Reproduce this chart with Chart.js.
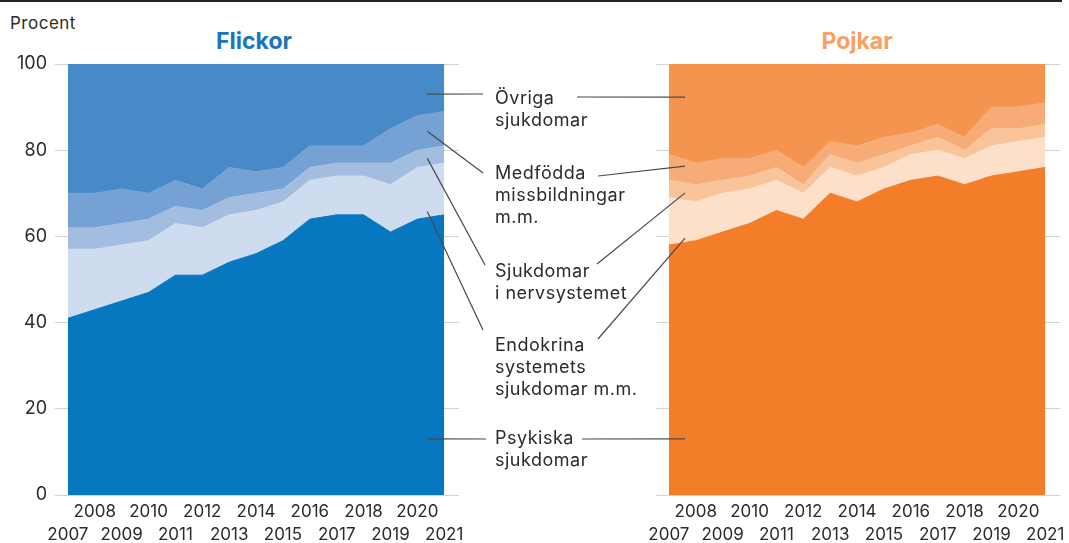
<!DOCTYPE html>
<html lang="sv">
<head>
<meta charset="utf-8">
<title>Flickor och pojkar – Procent</title>
<script src="https://cdn.jsdelivr.net/npm/chart.js@4.4.1/dist/chart.umd.min.js"></script>
<style>
  html, body { margin: 0; padding: 0; background: #fff; }
  #wrap { position: relative; width: 1069px; height: 543px; overflow: hidden; font-family: Inter, "Liberation Sans", sans-serif; color: #2b2b2b; }
  #wrap canvas { position: absolute; top: 0; }
  .topline { position: absolute; left: 0; top: 0; width: 1062px; height: 2px; background: #222; }
  .unit { position: absolute; left: 10px; top: 13px; font-size: 17px; letter-spacing: 0.5px; }
  .title { position: absolute; top: 27px; width: 200px; text-align: center; font-size: 23px; font-weight: 700; }
  .lbl { position: absolute; left: 495px; font-size: 18px; line-height: 22px; letter-spacing: 0.5px; white-space: nowrap; }
</style>
</head>
<body>
<div id="wrap">
  <div class="topline"></div>
  <div class="unit">Procent</div>
  <div class="title" style="left:154px; color:#1a76bc;">Flickor</div>
  <div class="title" style="left:757px; color:#f6a063;">Pojkar</div>

  <canvas id="girlsChart" width="470" height="543" style="left:0"></canvas>
  <canvas id="boysChart" width="469" height="543" style="left:600px"></canvas>
  <canvas id="leaders" width="1069" height="543" style="left:0"></canvas>

  <div class="lbl" style="top:87px">Övriga<br>sjukdomar</div>
  <div class="lbl" style="top:162px">Medfödda<br>missbildningar<br>m.m.</div>
  <div class="lbl" style="top:260px">Sjukdomar<br>i nervsystemet</div>
  <div class="lbl" style="top:334px">Endokrina<br>systemets<br>sjukdomar m.m.</div>
  <div class="lbl" style="top:427px">Psykiska<br>sjukdomar</div>
</div>

<script>
  // --- data (procent per år) ---
  const years = [2007, 2008, 2009, 2010, 2011, 2012, 2013, 2014, 2015, 2016, 2017, 2018, 2019, 2020, 2021];
  const yTicks = [0, 20, 40, 60, 80, 100];

  // Flickor
  const girlsPsykiska  = [41, 43, 45, 47, 51, 51, 54, 56, 59, 64, 65, 65, 61, 64, 65];
  const girlsEndokrina = [16, 14, 13, 12, 12, 11, 11, 10,  9,  9,  9,  9, 11, 12, 12];
  const girlsNerv      = [ 5,  5,  5,  5,  4,  4,  4,  4,  3,  3,  3,  3,  5,  4,  4];
  const girlsMedfodda  = [ 8,  8,  8,  6,  6,  5,  7,  5,  5,  5,  4,  4,  8,  8,  8];
  const girlsOvriga    = [30, 30, 29, 30, 27, 29, 24, 25, 24, 19, 19, 19, 15, 12, 11];

  // Pojkar
  const boysPsykiska  = [58, 59, 61, 63, 66, 64, 70, 68, 71, 73, 74, 72, 74, 75, 76];
  const boysEndokrina = [11,  9,  9,  8,  7,  6,  6,  6,  5,  6,  6,  6,  7,  7,  7];
  const boysNerv      = [ 4,  4,  3,  3,  3,  2,  3,  3,  3,  2,  3,  2,  4,  3,  3];
  const boysMedfodda  = [ 6,  5,  5,  4,  4,  4,  3,  4,  4,  3,  3,  3,  5,  5,  5];
  const boysOvriga    = [21, 23, 22, 22, 20, 24, 18, 19, 17, 16, 14, 17, 10, 10,  9];

  const girlsColors = ['#0777bf', '#cfdbee', '#a3bde1', '#76a1d4', '#488ac7'];
  const boysColors  = ['#f37d29', '#fce0ca', '#f9c499', '#f7ab76', '#f4944f'];

  const FONT = { family: 'Inter, "Liberation Sans", sans-serif', size: 18 };

  function toPoints(arr) {
    return years.map((yr, i) => ({ x: yr, y: arr[i] }));
  }

  function makeDatasets(series, colors) {
    return series.map((arr, i) => ({
      data: toPoints(arr),
      backgroundColor: colors[i],
      borderColor: colors[i],
      borderWidth: 1,
      pointRadius: 0,
      tension: 0,
      fill: i === 0 ? 'origin' : '-1'
    }));
  }

  function makeChart(canvasId, series, colors, showY, padRight) {
    return new Chart(document.getElementById(canvasId), {
      type: 'line',
      data: { datasets: makeDatasets(series, colors) },
      options: {
        responsive: false,
        animation: false,
        events: [],
        layout: { padding: { top: 64, right: padRight, left: 0, bottom: 0 } },
        plugins: { legend: { display: false }, tooltip: { enabled: false } },
        scales: {
          x: {
            type: 'linear',
            min: 2006.52,
            max: 2021.55,
            grid: { display: false, drawTicks: false },
            border: { display: false },
            afterBuildTicks: (s) => { s.ticks = years.map(v => ({ value: v })); },
            afterFit: (s) => { s.height = 48; s.paddingLeft = 0; s.paddingRight = 0; },
            ticks: {
              autoSkip: false,
              maxRotation: 0,
              minRotation: 0,
              padding: 5,
              color: '#2b2b2b',
              font: { ...FONT, size: 17, lineHeight: 23 / 17 },
              callback: (v) => (v % 2 ? ['', String(v)] : String(v))
            }
          },
          y: {
            stacked: true,
            min: 0,
            max: 100,
            afterBuildTicks: (s) => { s.ticks = yTicks.map(v => ({ value: v })); },
            afterFit: (s) => { s.width = showY ? 55 : 56; },
            grid: { color: '#d3d3d3', lineWidth: 1, drawTicks: false },
            border: { display: false },
            ticks: {
              display: showY,
              padding: 8,
              color: '#2b2b2b',
              font: FONT
            }
          }
        }
      }
    });
  }

  const girlsChart = makeChart('girlsChart',
    [girlsPsykiska, girlsEndokrina, girlsNerv, girlsMedfodda, girlsOvriga], girlsColors, true, 11);
  const boysChart = makeChart('boysChart',
    [boysPsykiska, boysEndokrina, boysNerv, boysMedfodda, boysOvriga], boysColors, false, 9);

  // --- leader lines from labels into each area ---
  // anchor inside each chart: [year, procent]; label side: page x/y
  const leaderLeft = [
    { at: [2020.37, 93.0], to: [483, 94] },
    { at: [2020.37, 84.4], to: [483, 173] },
    { at: [2020.37, 78.1], to: [485, 265] },
    { at: [2020.37, 65.8], to: [483, 330] },
    { at: [2020.37, 13.0], to: [486, 439] }
  ];
  const leaderRight = [
    { at: [2007.6, 92.3], from: [577, 97] },
    { at: [2007.6, 76.3], from: [598, 176] },
    { at: [2007.6, 70.1], from: [597, 264] },
    { at: [2007.6, 59.6], from: [598, 339] },
    { at: [2007.6, 13.0], from: [582, 439] }
  ];

  const ctx = document.getElementById('leaders').getContext('2d');
  ctx.strokeStyle = '#4a4a4a';
  ctx.lineWidth = 1.2;

  function pagePoint(chart, offsetX, year, val) {
    return [offsetX + chart.scales.x.getPixelForValue(year), chart.scales.y.getPixelForValue(val)];
  }

  leaderLeft.forEach(l => {
    const p = pagePoint(girlsChart, 0, l.at[0], l.at[1]);
    ctx.beginPath();
    ctx.moveTo(p[0], p[1]);
    ctx.lineTo(l.to[0], l.to[1]);
    ctx.stroke();
  });
  leaderRight.forEach(l => {
    const p = pagePoint(boysChart, 600, l.at[0], l.at[1]);
    ctx.beginPath();
    ctx.moveTo(l.from[0], l.from[1]);
    ctx.lineTo(p[0], p[1]);
    ctx.stroke();
  });
</script>
</body>
</html>
